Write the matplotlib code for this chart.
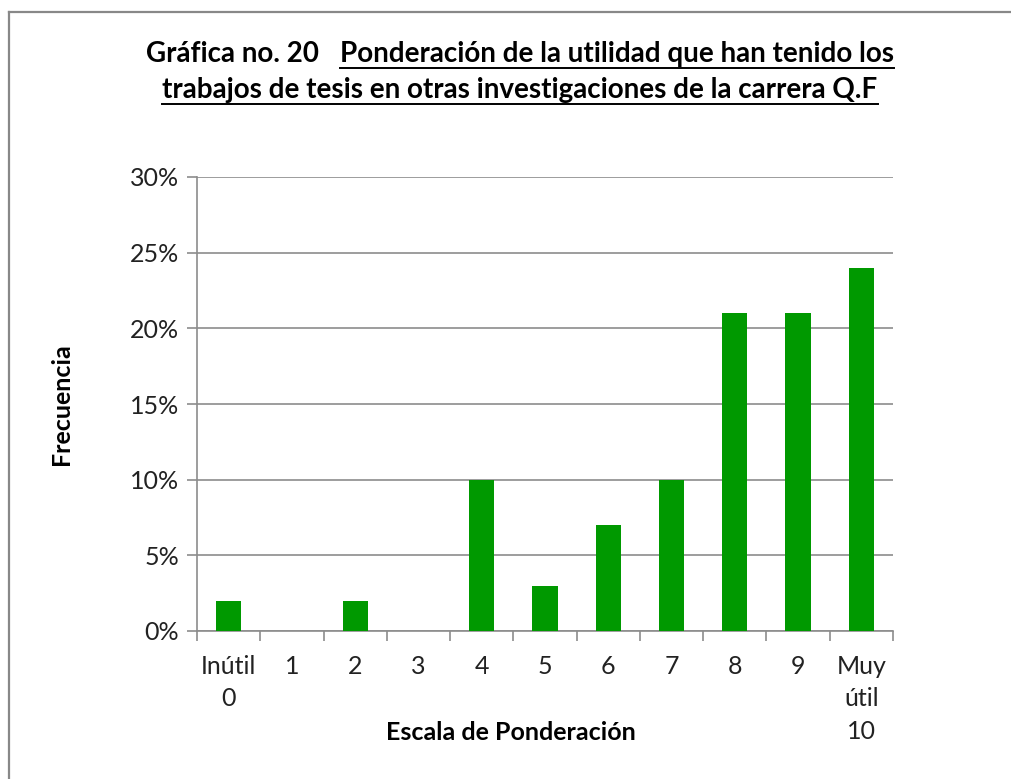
import matplotlib
matplotlib.use("Agg")
import matplotlib.pyplot as plt
from matplotlib.lines import Line2D
from matplotlib.ticker import FixedLocator, PercentFormatter

plt.rcParams['font.family'] = ['Lato', 'DejaVu Sans']

categories = ["Inútil\n0", "1", "2", "3", "4", "5", "6", "7", "8", "9", "Muy\nútil\n10"]
values = [2, 0, 2, 0, 10, 3, 7, 10, 21, 21, 24]
yticks = [0, 5, 10, 15, 20, 25, 30]

W, H = 1012, 779
fig = plt.figure(figsize=(W / 100, H / 100), dpi=100)
fig.patch.set_facecolor('white')

ax = fig.add_axes([197 / W, 1 - 631 / H, (893 - 197) / W, (631 - 177) / H])
x = list(range(len(categories)))
ax.bar(x, values, width=0.4, color='#009900', zorder=3)

ax.set_xlim(-0.5, len(categories) - 0.5)
ax.set_ylim(0, 30)
ax.set_yticks(yticks)
ax.yaxis.set_major_formatter(PercentFormatter(decimals=0))
ax.grid(axis='y', color='#8c8c8c', linewidth=1.2, zorder=0)

ax.set_xticks(x)
ax.set_xticklabels(categories, linespacing=1.5, va='top')
ax.xaxis.set_minor_locator(FixedLocator([i - 0.5 for i in range(len(categories) + 1)]))
ax.tick_params(axis='x', which='major', length=0, pad=17, labelsize=18, colors='#222222')
ax.tick_params(axis='x', which='minor', length=7, width=1.2, color='#8c8c8c', direction='out')
ax.tick_params(axis='y', which='major', length=7, width=1.2, color='#8c8c8c', pad=6,
               labelsize=18, labelcolor='#222222')

for s in ['top', 'right']:
    ax.spines[s].set_visible(False)
for s in ['left', 'bottom']:
    ax.spines[s].set_color('#8c8c8c')
    ax.spines[s].set_linewidth(1.2)

ax.set_ylabel("Frecuencia", fontsize=18, fontweight='bold', labelpad=0)
ax.yaxis.set_label_coords((73 - 197) / (893 - 197), 0.5)
fig.text(511 / W, 1 - 733 / H, "Escala de Ponderación", fontsize=18, fontweight='bold',
         ha='center', va='center', color='black')

# border
fig.add_artist(Line2D([9 / W, 9 / W], [0, 1 - 12 / H], transform=fig.transFigure,
                      color='#888888', linewidth=1.6))
fig.add_artist(Line2D([9 / W, 1], [1 - 12 / H, 1 - 12 / H], transform=fig.transFigure,
                      color='#888888', linewidth=1.6))

# title with partial underline
title_prefix = "Gráfica no. 20   "
title_line1 = "Ponderación de la utilidad que han tenido los"
title_line2 = "trabajos de tesis en otras investigaciones de la carrera Q.F"
tfs = 20
fig.canvas.draw()
r = fig.canvas.get_renderer()
tp = fig.text(0, 0, title_prefix, fontsize=tfs, fontweight='bold')
t1 = fig.text(0, 0, title_line1, fontsize=tfs, fontweight='bold')
t2 = fig.text(0, 0, title_line2, fontsize=tfs, fontweight='bold')
wp = tp.get_window_extent(r).width
w1 = t1.get_window_extent(r).width
w2 = t2.get_window_extent(r).width
cx = 520
y1 = H - 62
y2 = H - 98
start1 = cx - (wp + w1) / 2
tp.set_position((start1 / W, y1 / H))
t1.set_position(((start1 + wp) / W, y1 / H))
start2 = cx - w2 / 2
t2.set_position((start2 / W, y2 / H))
for t in (tp, t1, t2):
    t.set_va('baseline')
ul = 6
fig.add_artist(Line2D([(start1 + wp) / W, (start1 + wp + w1) / W], [(y1 - ul) / H] * 2,
                      transform=fig.transFigure, color='black', linewidth=1.4))
fig.add_artist(Line2D([start2 / W, (start2 + w2) / W], [(y2 - ul) / H] * 2,
                      transform=fig.transFigure, color='black', linewidth=1.4))

fig.savefig("out.png", dpi=100, facecolor='white')
